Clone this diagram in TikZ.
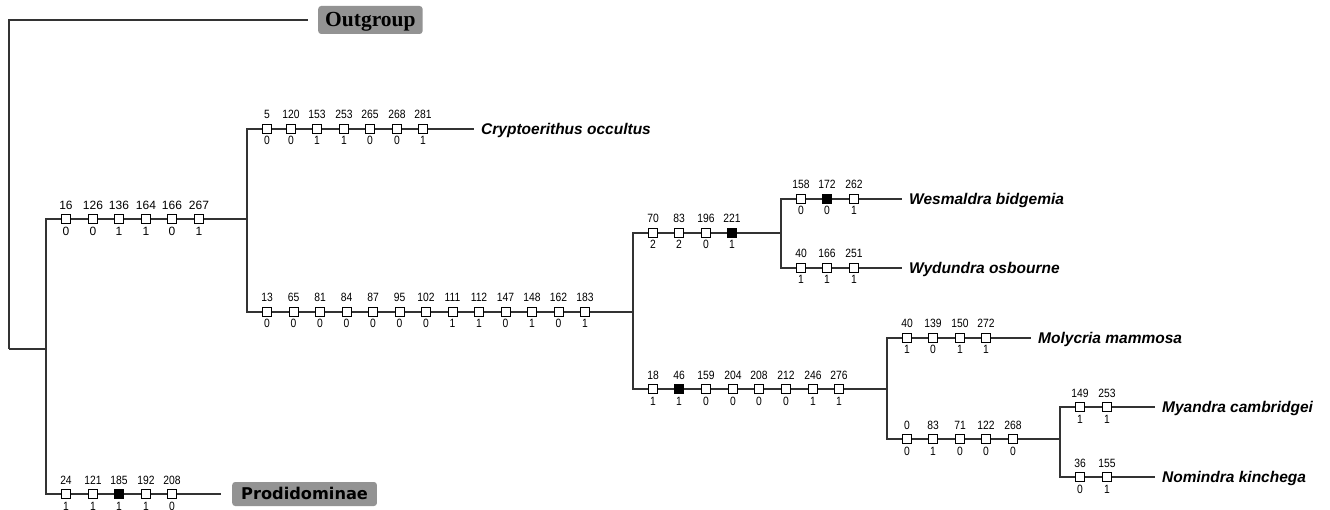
\documentclass[tikz,border=0pt]{standalone}
\usepackage{fontspec}
\setmainfont{Liberation Sans}
\newfontfamily\serifbold{Liberation Serif}
\newfontfamily\widesans{DejaVu Sans}
\newfontfamily\narrowsans[FakeStretch=0.86]{Liberation Sans}
\usepackage{xcolor}
\usetikzlibrary{positioning}
\definecolor{TreeLine}{HTML}{333333}
\definecolor{GroupGray}{HTML}{939393}

\begin{document}
\begin{tikzpicture}[
      x=1pt,y=-1pt,
      br/.style={draw=TreeLine,line width=1.1pt},
      chr/.style={draw=black,line width=0.8pt,minimum size=8.8pt,inner sep=0pt},
      num/.style={font=\narrowsans\fontsize{12}{14}\selectfont,inner sep=0pt,anchor=base},
      widenum/.style={font=\fontsize{12}{14}\selectfont,inner sep=0pt,anchor=base},
      taxon/.style={font=\fontsize{15.5}{18}\selectfont\bfseries\itshape,anchor=west,inner sep=0pt,text height=11pt,text depth=0pt},
      grp/.style={fill=GroupGray,rounded corners=3pt,anchor=west,text depth=0pt}
    ]
  \useasboundingbox (0,0) rectangle (1330,510);
  % clade points
  \coordinate (root) at (9,349);
  \coordinate (ingrp) at (46,349);
  \coordinate (nB) at (247,219);
  \coordinate (nD) at (633,312);
  \coordinate (nF) at (781,233);
  \coordinate (nH) at (887,389);
  \coordinate (nJ) at (1060,439);
  % terminals
  \node[grp,font=\serifbold\fontsize{21.5}{24}\selectfont\bfseries,text height=14pt,minimum height=28pt,inner xsep=7pt] (outg) at (318,20) {Outgroup};
  \node[grp,font=\widesans\fontsize{16.2}{19}\selectfont\bfseries,text height=11.8pt,minimum height=24pt,inner xsep=9pt] (prod) at (232,494) {Prodidominae};
  \node[taxon] (crypt) at (481,129) {Cryptoerithus occultus};
  \node[taxon] (wesm) at (909,199) {Wesmaldra bidgemia};
  \node[taxon] (wydu) at (909,268) {Wydundra osbourne};
  \node[taxon] (moly) at (1038,338) {Molycria mammosa};
  \node[taxon] (myan) at (1162,407) {Myandra cambridgei};
  \node[taxon] (nomi) at (1162,477) {Nomindra kinchega};
  % branches
  \draw[br] (root) |- ([xshift=-10pt]outg.west);
  \draw[br] (root) -- (ingrp);
  \draw[br] (ingrp) |- (nB);
  \draw[br] (ingrp) |- ([xshift=-11pt]prod.west);
  \draw[br] (nB) |- ([xshift=-7pt]crypt.west);
  \draw[br] (nB) |- (nD);
  \draw[br] (nD) |- (nF);
  \draw[br] (nD) |- (nH);
  \draw[br] (nF) |- ([xshift=-7pt]wesm.west);
  \draw[br] (nF) |- ([xshift=-7pt]wydu.west);
  \draw[br] (nH) |- ([xshift=-7pt]moly.west);
  \draw[br] (nH) |- (nJ);
  \draw[br] (nJ) |- ([xshift=-7pt]myan.west);
  \draw[br] (nJ) |- ([xshift=-7pt]nomi.west);
  % characters on the ingroup stem
  \foreach \x/\t/\b [count=\i] in {66/16/0,93/126/0,119/136/1,146/164/1,172/166/0,199/267/1}{
    \node[chr,fill=white] (s\i) at (\x,219) {};
    \node[widenum] at ([yshift=9pt]s\i.center) {\t};
    \node[widenum] at ([yshift=-17pt]s\i.center) {\b};
  }
  % characters: x / y / character / state / fill
  \foreach \x/\y/\t/\b/\f [count=\i] in {
      267/129/5/0/white,291/129/120/0/white,317/129/153/1/white,344/129/253/1/white,370/129/265/0/white,397/129/268/0/white,423/129/281/1/white,
      267/312/13/0/white,293.5/312/65/0/white,320/312/81/0/white,346.5/312/84/0/white,373/312/87/0/white,399.5/312/95/0/white,426/312/102/0/white,
      452.5/312/111/1/white,479/312/112/1/white,505.5/312/147/0/white,532/312/148/1/white,558.5/312/162/0/white,585/312/183/1/white,
      653/233/70/2/white,679/233/83/2/white,706/233/196/0/white,732/233/221/1/black,
      801/199/158/0/white,827/199/172/0/black,854/199/262/1/white,
      801/268/40/1/white,827/268/166/1/white,854/268/251/1/white,
      653/389/18/1/white,679/389/46/1/black,706/389/159/0/white,733/389/204/0/white,759/389/208/0/white,786/389/212/0/white,813/389/246/1/white,839/389/276/1/white,
      907/338/40/1/white,933/338/139/0/white,960/338/150/1/white,986/338/272/1/white,
      907/439/0/0/white,933/439/83/1/white,960/439/71/0/white,986/439/122/0/white,1013/439/268/0/white,
      1080/407/149/1/white,1107/407/253/1/white,
      1080/477/36/0/white,1107/477/155/1/white,
      66/494/24/1/white,93/494/121/1/white,119/494/185/1/black,146/494/192/1/white,172/494/208/0/white}{
    \node[chr,fill=\f] (c\i) at (\x,\y) {};
    \node[num] at ([yshift=10pt]c\i.center) {\t};
    \node[num] at ([yshift=-16pt]c\i.center) {\b};
  }
\end{tikzpicture}
\end{document}
